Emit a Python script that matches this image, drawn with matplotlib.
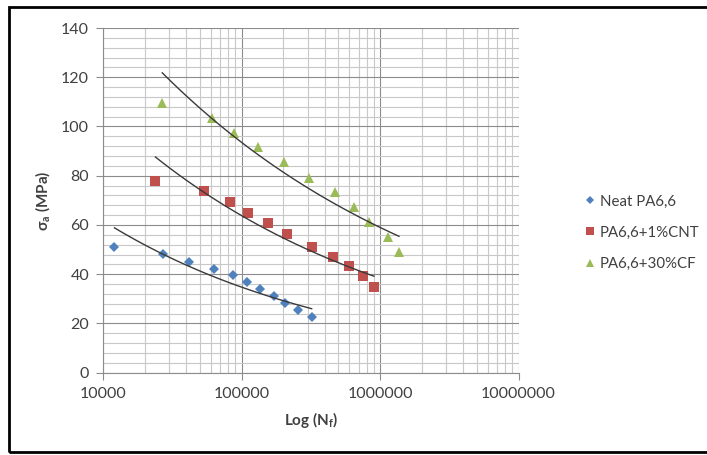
import numpy as np
import matplotlib
matplotlib.use('Agg')
from matplotlib import pyplot as plt
from matplotlib.patches import Rectangle
from matplotlib.ticker import LogLocator, MultipleLocator, NullFormatter, FuncFormatter

plt.rcParams['font.family'] = ['Lato', 'DejaVu Sans']
plt.rcParams['mathtext.fontset'] = 'custom'
plt.rcParams['mathtext.rm'] = 'Lato'
plt.rcParams['mathtext.bf'] = 'Lato:bold'

# S-N data (cycles, stress amplitude in MPa)
series_names = ['Neat PA6,6', 'PA6,6+1%CNT', 'PA6,6+30%CF']

neat_cycles = [12100, 27200, 42000, 63700, 87300, 109000, 136000, 173000, 206000, 255000, 321000]
neat_stress = [51.0, 48.2, 45.0, 42.3, 39.7, 36.9, 33.9, 31.0, 28.2, 25.5, 22.8]

cnt_cycles = [23900, 53300, 82200, 112000, 155000, 212000, 321000, 460000, 600000, 757000, 905000]
cnt_stress = [77.9, 74.0, 69.5, 65.0, 61.0, 56.4, 51.2, 46.9, 43.4, 39.3, 35.0]

cf_cycles = [26800, 61500, 88700, 131000, 203000, 307000, 473000, 652000, 838000, 1138000, 1371000]
cf_stress = [109.7, 103.4, 97.3, 91.8, 85.5, 79.2, 73.2, 67.1, 61.4, 55.0, 48.9]

x_ticks = [10000, 100000, 1000000, 10000000]
y_ticks = [0, 20, 40, 60, 80, 100, 120, 140]

colors = ['#4F81BD', '#C0504D', '#9BBB59']
markers = [('D', 5.5), ('s', 7), ('^', 7.5)]


def power_trend(cycles, stress):
    # excel style power trendline: fit in log-log space
    b, log_a = np.polyfit(np.log10(cycles), np.log10(stress), 1)
    xs = np.geomspace(min(cycles), max(cycles), 100)
    return xs, 10 ** log_a * xs ** b


fig = plt.figure(figsize=(7.07, 4.55), dpi=100)
ax = fig.add_axes([103 / 707, 82.3 / 455, 415.5 / 707, 344.7 / 455])

all_series = [(neat_cycles, neat_stress), (cnt_cycles, cnt_stress), (cf_cycles, cf_stress)]
handles = []
for (cyc, st), name, col, (mk, ms) in zip(all_series, series_names, colors, markers):
    h, = ax.plot(cyc, st, linestyle='none', marker=mk, markersize=ms, color=col,
                 markeredgewidth=0, label=name, zorder=3)
    handles.append(h)
    xs, ys = power_trend(cyc, st)
    ax.plot(xs, ys, color='#3a3a3a', lw=1.0, zorder=4)

ax.set_xscale('log')
ax.set_xlim(x_ticks[0], x_ticks[-1])
ax.set_ylim(y_ticks[0], y_ticks[-1])
ax.set_xticks(x_ticks)
ax.xaxis.set_major_formatter(FuncFormatter(lambda v, p: '%d' % v))
ax.xaxis.set_minor_locator(LogLocator(base=10, subs=np.arange(2, 10)))
ax.xaxis.set_minor_formatter(NullFormatter())
ax.set_yticks(y_ticks)
ax.yaxis.set_minor_locator(MultipleLocator(4))

ax.grid(which='major', color='#8c8c8c', lw=0.8)
ax.grid(which='minor', color='#c8c8c8', lw=0.8)
ax.set_axisbelow(True)

for s in ['top', 'right']:
    ax.spines[s].set_visible(False)
for s in ['left', 'bottom']:
    ax.spines[s].set_color('#8c8c8c')
    ax.spines[s].set_linewidth(0.8)

ax.tick_params(which='major', length=5, color='#8c8c8c', labelsize=11.5,
               labelcolor='#404040', pad=5)
ax.tick_params(which='minor', length=0)

ax.set_xlabel('Log (N$_\\mathbf{f}$)', fontweight='bold', fontsize=11, color='#404040', labelpad=7)
ax.set_ylabel('σ$_\\mathbf{a}$ (MPa)', fontweight='bold', fontsize=11, color='#404040', labelpad=6)

fig.legend(handles=handles, loc='upper left', bbox_to_anchor=(570 / 707, 1 - 181 / 455),
           frameon=False, fontsize=10.8, handlelength=0.8, handletextpad=0.3,
           labelspacing=1.15, labelcolor='#404040', markerscale=0.8)

fig.patches.append(Rectangle((9 / 707, 3 / 455), 1.2, 445 / 455, transform=fig.transFigure,
                             fill=False, edgecolor='black', lw=2))

fig.savefig('out.png', dpi=100)
